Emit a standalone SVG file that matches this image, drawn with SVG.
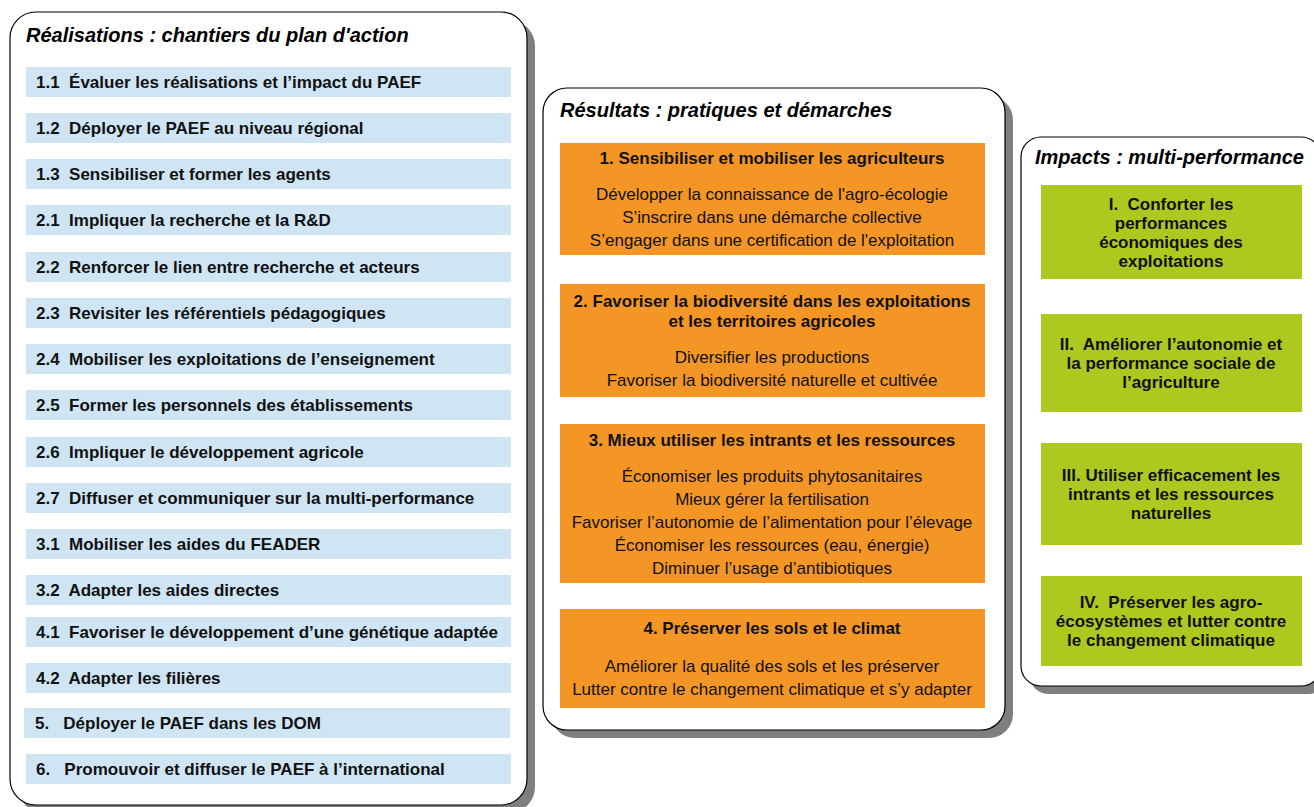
<svg xmlns="http://www.w3.org/2000/svg" width="1314" height="807" viewBox="0 0 1314 807">
<style>
text{white-space:pre}
.panel{fill:#fff;stroke:#000;stroke-width:1.2}
.shadow{fill:#7f7f7f}
.title{font-family:"Liberation Sans",Arial,sans-serif;font-size:20px;font-weight:bold;font-style:italic;fill:#000}
.blue{fill:#cfe5f3}
.orange{fill:#f39625}
.green{fill:#adc81e}
.item{font-family:"Liberation Sans",Arial,sans-serif;font-size:17px;font-weight:bold;fill:#111}
.hd{font-family:"Liberation Sans",Arial,sans-serif;font-size:17px;font-weight:bold;fill:#111;text-anchor:middle}
.bd{font-family:"Liberation Sans",Arial,sans-serif;font-size:17px;fill:#111;text-anchor:middle}
</style>
<rect width="1314" height="807" fill="#fff"/>
<g id="panel-realisations">
<rect class="shadow" x="18" y="20" width="517" height="793" rx="26"/>
<rect class="panel" x="10" y="12" width="517" height="793" rx="26"/>
<text class="title" x="26" y="42">Réalisations : chantiers du plan d'action</text>
</g>
<g id="items">
<g id="i11"><rect class="blue" x="26" y="67" width="485" height="30"/><text class="item" x="36" y="88">1.1  Évaluer les réalisations et l’impact du PAEF</text></g>
<g id="i12"><rect class="blue" x="26" y="113" width="485" height="30"/><text class="item" x="36" y="134">1.2  Déployer le PAEF au niveau régional</text></g>
<g id="i13"><rect class="blue" x="26" y="159" width="485" height="30"/><text class="item" x="36" y="180">1.3  Sensibiliser et former les agents</text></g>
<g id="i21"><rect class="blue" x="26" y="205" width="485" height="30"/><text class="item" x="36" y="226">2.1  Impliquer la recherche et la R&amp;D</text></g>
<g id="i22"><rect class="blue" x="26" y="252" width="485" height="30"/><text class="item" x="36" y="273">2.2  Renforcer le lien entre recherche et acteurs</text></g>
<g id="i23"><rect class="blue" x="26" y="298" width="485" height="30"/><text class="item" x="36" y="319">2.3  Revisiter les référentiels pédagogiques</text></g>
<g id="i24"><rect class="blue" x="26" y="344" width="485" height="30"/><text class="item" x="36" y="365">2.4  Mobiliser les exploitations de l’enseignement</text></g>
<g id="i25"><rect class="blue" x="26" y="390" width="485" height="30"/><text class="item" x="36" y="411">2.5  Former les personnels des établissements</text></g>
<g id="i26"><rect class="blue" x="26" y="437" width="485" height="30"/><text class="item" x="36" y="458">2.6  Impliquer le développement agricole</text></g>
<g id="i27"><rect class="blue" x="26" y="483" width="485" height="30"/><text class="item" x="36" y="504">2.7  Diffuser et communiquer sur la multi-performance</text></g>
<g id="i31"><rect class="blue" x="26" y="529" width="485" height="30"/><text class="item" x="36" y="550">3.1  Mobiliser les aides du FEADER</text></g>
<g id="i32"><rect class="blue" x="26" y="575" width="485" height="30"/><text class="item" x="36" y="596">3.2  Adapter les aides directes</text></g>
<g id="i41"><rect class="blue" x="26" y="617" width="485" height="30"/><text class="item" x="36" y="638">4.1  Favoriser le développement d’une génétique adaptée</text></g>
<g id="i42"><rect class="blue" x="26" y="663" width="485" height="30"/><text class="item" x="36" y="684">4.2  Adapter les filières</text></g>
<g id="i5"><rect class="blue" x="24" y="708" width="486" height="30"/><text class="item" x="35" y="729">5.   Déployer le PAEF dans les DOM</text></g>
<g id="i6"><rect class="blue" x="26" y="754" width="485" height="30"/><text class="item" x="36" y="775">6.   Promouvoir et diffuser le PAEF à l’international</text></g>
</g>
<g id="panel-resultats">
<rect class="shadow" x="551" y="96" width="462" height="642" rx="24"/>
<rect class="panel" x="543" y="88" width="462" height="642" rx="24"/>
<text class="title" x="560" y="117">Résultats : pratiques et démarches</text>
</g>
<g id="r1"><rect class="orange" x="560" y="143" width="425" height="112"/>
<text class="hd" x="772" y="164">1. Sensibiliser et mobiliser les agriculteurs</text>
<text class="bd" x="772" y="200">Développer la connaissance de l'agro-écologie</text>
<text class="bd" x="772" y="223">S’inscrire dans une démarche collective</text>
<text class="bd" x="772" y="246">S’engager dans une certification de l'exploitation</text></g>
<g id="r2"><rect class="orange" x="560" y="284" width="425" height="113"/>
<text class="hd" x="772" y="307">2. Favoriser la biodiversité dans les exploitations</text>
<text class="hd" x="772" y="327">et les territoires agricoles</text>
<text class="bd" x="772" y="363">Diversifier les productions</text>
<text class="bd" x="772" y="386">Favoriser la biodiversité naturelle et cultivée</text></g>
<g id="r3"><rect class="orange" x="560" y="424" width="425" height="159"/>
<text class="hd" x="772" y="446">3. Mieux utiliser les intrants et les ressources</text>
<text class="bd" x="772" y="482">Économiser les produits phytosanitaires</text>
<text class="bd" x="772" y="505">Mieux gérer la fertilisation</text>
<text class="bd" x="772" y="528">Favoriser l’autonomie de l’alimentation pour l’élevage</text>
<text class="bd" x="772" y="551">Économiser les ressources (eau, énergie)</text>
<text class="bd" x="772" y="574">Diminuer l’usage d’antibiotiques</text></g>
<g id="r4"><rect class="orange" x="560" y="609" width="425" height="99"/>
<text class="hd" x="772" y="634">4. Préserver les sols et le climat</text>
<text class="bd" x="772" y="672">Améliorer la qualité des sols et les préserver</text>
<text class="bd" x="772" y="695">Lutter contre le changement climatique et s’y adapter</text></g>
<g id="panel-impacts">
<rect class="shadow" x="1029" y="145" width="300" height="549" rx="20"/>
<rect class="panel" x="1021" y="137" width="300" height="549" rx="20"/>
<text class="title" x="1035" y="164">Impacts : multi-performance</text>
</g>
<g id="m1"><rect class="green" x="1041" y="185" width="261" height="94"/>
<text class="hd" x="1171" y="210">I.  Conforter les</text>
<text class="hd" x="1171" y="229">performances</text>
<text class="hd" x="1171" y="248">économiques des</text>
<text class="hd" x="1171" y="267">exploitations</text></g>
<g id="m2"><rect class="green" x="1041" y="314" width="261" height="98"/>
<text class="hd" x="1171" y="350">II.  Améliorer l’autonomie et</text>
<text class="hd" x="1171" y="369">la performance sociale de</text>
<text class="hd" x="1171" y="388">l’agriculture</text></g>
<g id="m3"><rect class="green" x="1041" y="443" width="261" height="102"/>
<text class="hd" x="1171" y="481">III. Utiliser efficacement les</text>
<text class="hd" x="1171" y="500">intrants et les ressources</text>
<text class="hd" x="1171" y="519">naturelles</text></g>
<g id="m4"><rect class="green" x="1041" y="576" width="261" height="90"/>
<text class="hd" x="1171" y="608">IV.  Préserver les agro-</text>
<text class="hd" x="1171" y="627">écosystèmes et lutter contre</text>
<text class="hd" x="1171" y="646">le changement climatique</text></g>
<g id="connectors"></g>
</svg>
